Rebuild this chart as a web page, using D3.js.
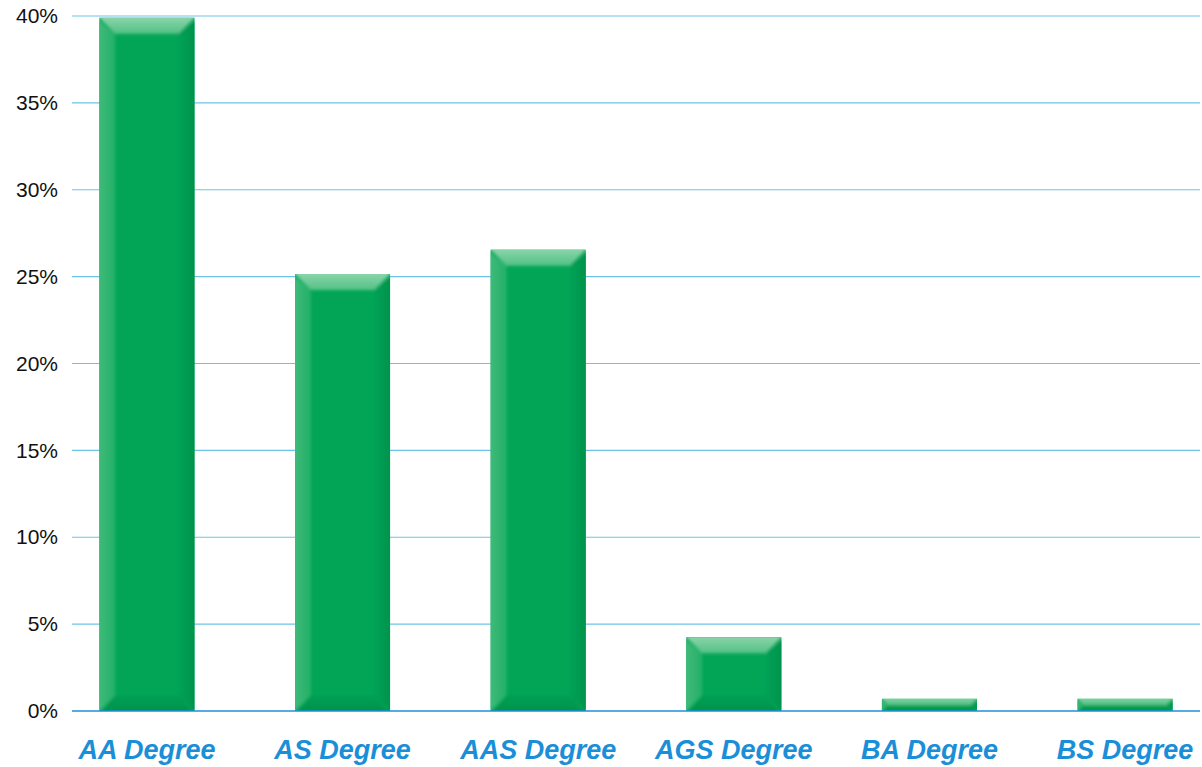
<!DOCTYPE html>
<html>
<head>
<meta charset="utf-8">
<script src="https://cdn.jsdelivr.net/npm/d3@7"></script>
<style>
  body { margin: 0; background: #fff; }
  svg { display: block; }
</style>
</head>
<body>
<div id="chart"></div>
<script>
// data
var categories = ["AA Degree", "AS Degree", "AAS Degree", "AGS Degree", "BA Degree", "BS Degree"];
var shares = [39.9, 25.15, 26.55, 4.25, 0.7, 0.7];
var yTicks = [0, 5, 10, 15, 20, 25, 30, 35, 40];

var width = 1202, height = 767;
var margin = {top: 16, right: 2, bottom: 56, left: 72};

var svg = d3.select("#chart").append("svg")
    .attr("width", width)
    .attr("height", height);

var defs = svg.append("defs");
function grad(id, x2, y2, stops) {
    var g = defs.append("linearGradient").attr("id", id)
        .attr("x1", 0).attr("y1", 0).attr("x2", x2).attr("y2", y2);
    stops.forEach(function(s) {
        g.append("stop").attr("offset", s[0]).attr("stop-color", s[1]);
    });
}
grad("topBevel", 0, 1, [["0%", "#97d9b2"], ["100%", "#52c185"]]);
grad("leftBevel", 1, 0, [["0%", "#45bc7d"], ["100%", "#22b067"]]);
grad("rightBevel", 1, 0, [["0%", "#02a256"], ["100%", "#00904a"]]);
grad("bottomBevel", 0, 1, [["0%", "#02a055"], ["100%", "#008f49"]]);

defs.append("filter").attr("id", "soft")
    .attr("x", "-10%").attr("y", "-10%").attr("width", "120%").attr("height", "120%")
    .append("feGaussianBlur").attr("stdDeviation", 1.6);

var x = d3.scaleBand()
    .domain(categories)
    .range([margin.left, width - margin.right])
    .paddingInner(0.514)
    .paddingOuter(0.14);

var y = d3.scaleLinear()
    .domain([0, 40])
    .range([height - margin.bottom, margin.top]);

// gridlines
svg.append("g")
    .selectAll("line")
    .data(yTicks.filter(function(d) { return d > 0; }))
    .enter().append("line")
    .attr("x1", margin.left)
    .attr("x2", width - margin.right)
    .attr("y1", function(d) { return y(d); })
    .attr("y2", function(d) { return y(d); })
    .attr("stroke", "#6cc3e8")
    .attr("stroke-width", 1.2);

// y axis labels
var yAxis = svg.append("g")
    .attr("transform", "translate(" + margin.left + ",0)")
    .call(d3.axisLeft(y).tickValues(yTicks).tickSize(0).tickPadding(14)
        .tickFormat(function(d) { return d + "%"; }));
yAxis.select(".domain").remove();
yAxis.selectAll("text")
    .attr("font-family", "Liberation Sans, Arial, sans-serif")
    .attr("font-size", 21)
    .attr("fill", "#111");

// bars
var bars = svg.append("g").selectAll("g")
    .data(categories)
    .enter().append("g");

bars.each(function(c, i) {
    var g = d3.select(this);
    var x0 = x(c), w = x.bandwidth();
    var y0 = y(shares[i]), y1 = y(0), h = y1 - y0;
    var b = Math.min(16, h / 2);
    var x1 = x0 + w;
    defs.append("clipPath").attr("id", "clip" + i)
        .append("rect").attr("x", x0).attr("y", y0).attr("width", w).attr("height", h);
    g.append("rect")
        .attr("x", x0).attr("y", y0).attr("width", w).attr("height", h)
        .attr("fill", "#02a556");
    var bev = g.append("g").attr("clip-path", "url(#clip" + i + ")")
        .append("g").attr("filter", "url(#soft)");
    // left bevel
    bev.append("path")
        .attr("d", "M" + (x0 - 4) + "," + y0 + "L" + (x0 + b) + "," + (y0 + b) + "L" + (x0 + b) + "," + (y1 - b) + "L" + (x0 - 4) + "," + (y1 + 4) + "Z")
        .attr("fill", "url(#leftBevel)");
    // right bevel
    bev.append("path")
        .attr("d", "M" + (x1 + 4) + "," + y0 + "L" + (x1 - b) + "," + (y0 + b) + "L" + (x1 - b) + "," + (y1 - b) + "L" + (x1 + 4) + "," + (y1 + 4) + "Z")
        .attr("fill", "url(#rightBevel)");
    // bottom bevel
    bev.append("path")
        .attr("d", "M" + x0 + "," + (y1 + 4) + "L" + (x0 + b) + "," + (y1 - b) + "L" + (x1 - b) + "," + (y1 - b) + "L" + x1 + "," + (y1 + 4) + "Z")
        .attr("fill", "url(#bottomBevel)");
    // top bevel
    bev.append("path")
        .attr("d", "M" + (x0 - 4) + "," + (y0 - 4) + "L" + (x1 + 4) + "," + (y0 - 4) + "L" + (x1 - b) + "," + (y0 + b) + "L" + (x0 + b) + "," + (y0 + b) + "Z")
        .attr("fill", "url(#topBevel)");
});

// baseline
svg.append("line")
    .attr("x1", margin.left)
    .attr("x2", width - margin.right)
    .attr("y1", y(0))
    .attr("y2", y(0))
    .attr("stroke", "#1f8fd6")
    .attr("stroke-width", 1.5);

// category labels
var xAxis = svg.append("g")
    .attr("transform", "translate(0," + y(0) + ")")
    .call(d3.axisBottom(x).tickSize(0).tickPadding(29));
xAxis.select(".domain").remove();
xAxis.selectAll("text")
    .attr("font-family", "Liberation Sans, Arial, sans-serif")
    .attr("font-size", 27)
    .attr("font-weight", "bold")
    .attr("font-style", "italic")
    .attr("fill", "#1a8fd8");
</script>
</body>
</html>
